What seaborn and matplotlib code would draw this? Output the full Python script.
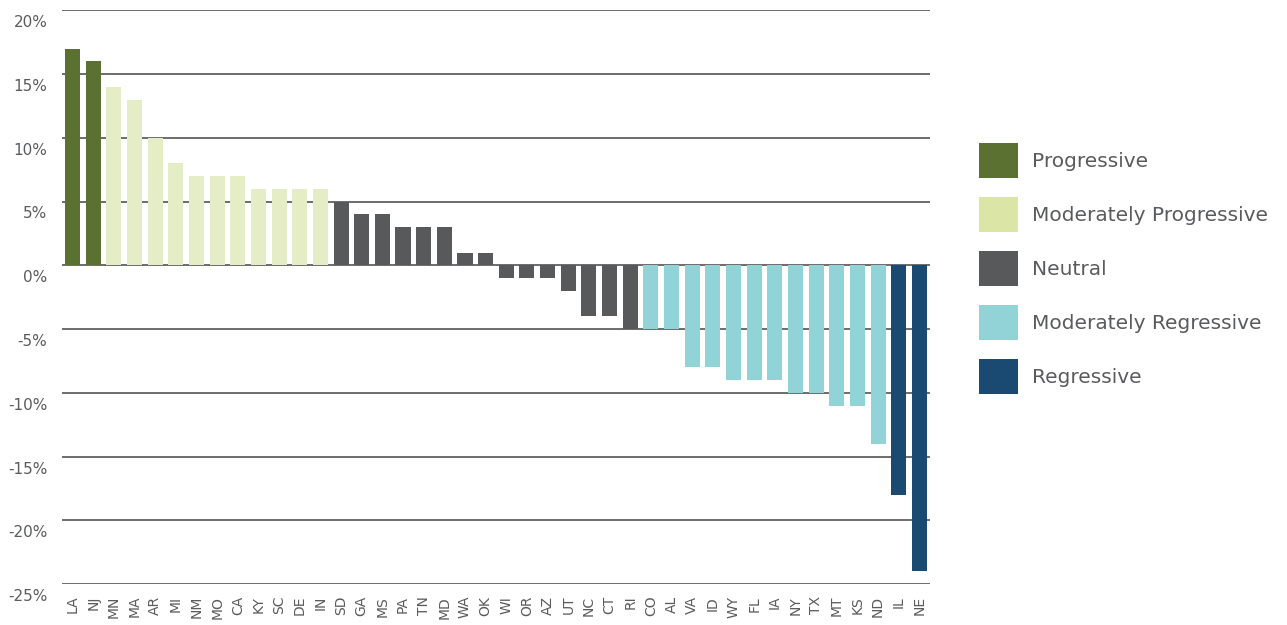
import matplotlib
matplotlib.use("Agg")
import matplotlib.pyplot as plt
import matplotlib.transforms as mtransforms
import seaborn as sns
import pandas as pd
from matplotlib.patches import Patch
from matplotlib.ticker import FuncFormatter

states = ["LA", "NJ", "MN", "MA", "AR", "MI", "NM", "MO", "CA", "KY", "SC", "DE", "IN",
          "SD", "GA", "MS", "PA", "TN", "MD", "WA", "OK", "WI", "OR", "AZ", "UT", "NC",
          "CT", "RI", "CO", "AL", "VA", "ID", "WY", "FL", "IA", "NY", "TX", "MT", "KS",
          "ND", "IL", "NE"]
values = [17, 16, 14, 13, 10, 8, 7, 7, 7, 6, 6, 6, 6,
          5, 4, 4, 3, 3, 3, 1, 1, -1, -1, -1, -2, -4,
          -4, -5, -5, -5, -8, -8, -9, -9, -9, -10, -10, -11, -11,
          -14, -18, -24]
groups = (["Progressive"] * 2 + ["Moderately Progressive"] * 11 + ["Neutral"] * 15
          + ["Moderately Regressive"] * 12 + ["Regressive"] * 2)
categories = ["Progressive", "Moderately Progressive", "Neutral",
              "Moderately Regressive", "Regressive"]
colors = ["#5a7131", "#e4edc5", "#58595b", "#92d3d7", "#1a4a72"]
legend_colors = ["#5a7131", "#dbe6a6", "#58595b", "#92d3d7", "#1a4a72"]
yticks = [-25, -20, -15, -10, -5, 0, 5, 10, 15, 20]

df = pd.DataFrame({"state": states, "value": values, "group": groups})

sns.set_theme(style="white")
plt.rcParams["font.family"] = ["DejaVu Sans"]
text_color = "#5a5b5d"

fig = plt.figure(figsize=(12.87, 6.25), dpi=100)
ax = fig.add_axes([0.0482, 0.0656, 0.6745, 0.918])

sns.barplot(data=df, x="state", y="value", hue="group", hue_order=categories,
            palette=dict(zip(categories, colors)), dodge=False, width=0.73,
            saturation=1, legend=False, ax=ax, zorder=3,
            linewidth=0, edgecolor="none")

ax.set_ylim(-25, 20)
ax.set_xlim(-0.51, len(states) - 1 + 0.52)
ax.set_yticks(yticks)
ax.yaxis.set_major_formatter(FuncFormatter(lambda v, _: f"{v:.0f}%"))
for y in yticks:
    ax.axhline(y, color="#6d6d6d", lw=1.4, zorder=1)
for s in ax.spines.values():
    s.set_visible(False)
ax.set_xlabel("")
ax.set_ylabel("")
ax.tick_params(axis="x", labelrotation=90, labelsize=10, colors=text_color, length=0, pad=8.5)
ax.tick_params(axis="y", labelsize=11, colors=text_color, length=0, pad=10.5)

# y labels sit just below their gridline
shift = mtransforms.ScaledTranslation(0, -5 / 100, fig.dpi_scale_trans)
for lab in ax.get_yticklabels():
    lab.set_verticalalignment("top")
    lab.set_transform(lab.get_transform() + shift)

handles = [Patch(facecolor=c, edgecolor="none") for c in legend_colors]
leg = fig.legend(handles, categories, loc="upper left", bbox_to_anchor=(0.7607, 0.7712),
                 frameon=False, fontsize=14.5, handlelength=1.95, handleheight=2.3,
                 labelspacing=0.94, handletextpad=0.7, borderaxespad=0, borderpad=0)
for t in leg.get_texts():
    t.set_color(text_color)

fig.savefig("out.png", dpi=100)
